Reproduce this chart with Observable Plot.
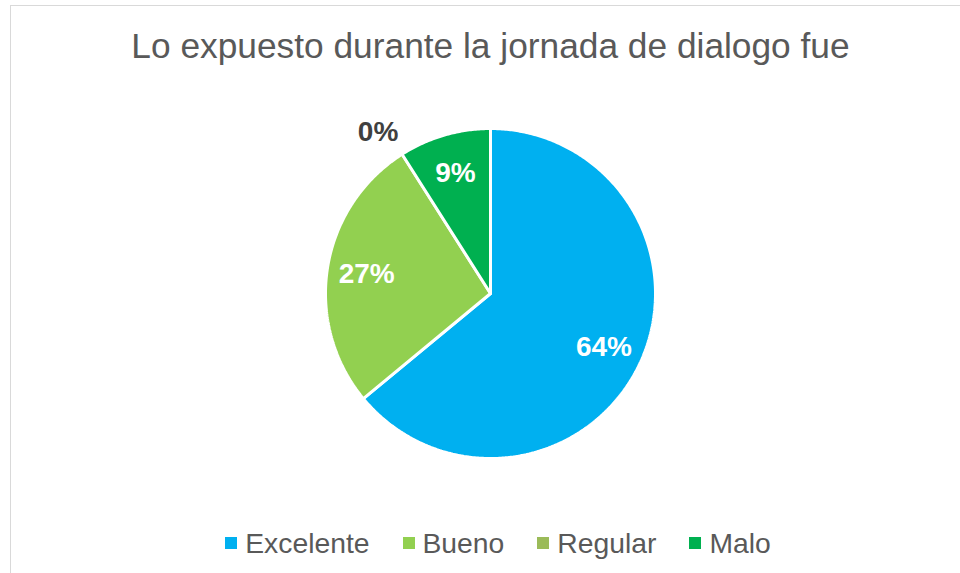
<!DOCTYPE html>
<html>
<head>
<meta charset="utf-8">
<script src="https://cdn.jsdelivr.net/npm/d3@7"></script>
<script src="https://cdn.jsdelivr.net/npm/@observablehq/plot@0.6"></script>
<style>
  html, body { margin: 0; padding: 0; background: #fff; overflow: hidden; }
  #wrap { position: relative; width: 960px; height: 573px; overflow: hidden; font-family: "Liberation Sans", Arial, sans-serif; }
  #frame { position: absolute; left: 10px; top: 5px; width: 1000px; height: 620px; border: 1.5px solid #d9d9d9; box-sizing: border-box; }
  #title { position: absolute; left: 0; width: 981px; top: 26px; text-align: center; font-size: 35.3px; color: #595959; line-height: 40px; white-space: nowrap; }
  #chart { position: absolute; left: 0; top: 0; }
  #legend { position: absolute; left: 0; width: 996px; top: 528px; display: flex; justify-content: center; align-items: center; font-size: 28.3px; color: #595959; line-height: 30px; }
  .item { display: flex; align-items: center; margin: 0 16.5px; }
  .sw { width: 12px; height: 12px; margin-right: 8px; }
</style>
</head>
<body>
<div id="wrap">
  <div id="frame"></div>
  <div id="chart"></div>
  <div id="title">Lo expuesto durante la jornada de dialogo fue</div>
  <div id="legend"></div>
</div>
<script>
const categories = ["Excelente", "Bueno", "Regular", "Malo"];
const values = [64, 27, 0, 9];
const labels = ["64%", "27%", "0%", "9%"];
const colors = ["#00B0F0", "#92D050", "#9BBB59", "#00B050"];

const total = d3.sum(values);
const slices = [];
const labelData = [];
let acc = 0;
categories.forEach((c, i) => {
  const a0 = acc / total * 2 * Math.PI;
  acc += values[i];
  const a1 = acc / total * 2 * Math.PI;
  if (values[i] > 0) {
    slices.push({cat: c, x: 0, y: 0});
    const n = Math.max(2, Math.ceil((a1 - a0) / 0.01));
    for (let k = 0; k <= n; k++) {
      const a = a0 + (a1 - a0) * k / n;
      slices.push({cat: c, x: Math.sin(a), y: Math.cos(a)});
    }
    slices.push({cat: c, x: 0, y: 0});
  }
  const am = (a0 + a1) / 2;
  const r = values[i] > 0 ? 0.76 : 1.17;
  labelData.push({cat: c, label: labels[i], x: r * Math.sin(am), y: r * Math.cos(am), inside: values[i] > 0});
});

const plot = Plot.plot({
  width: 960,
  height: 573,
  margin: 0,
  x: {domain: [-1, 1], range: [325, 655], axis: null},
  y: {domain: [-1, 1], range: [458, 128], axis: null},
  color: {domain: categories, range: colors},
  style: {background: "transparent", fontFamily: "Liberation Sans, Arial, sans-serif"},
  marks: [
    Plot.line(slices, {x: "x", y: "y", z: "cat", fill: "cat", stroke: "white", strokeWidth: 3, strokeLinejoin: "miter", curve: "linear"}),
    Plot.text(labelData.filter(d => d.inside), {x: "x", y: "y", text: "label", fill: "white", fontSize: 28, fontWeight: "bold"}),
    Plot.text(labelData.filter(d => !d.inside), {x: "x", y: "y", text: "label", fill: "#404040", fontSize: 28, fontWeight: "bold", dx: -9, dy: 2})
  ]
});
document.getElementById("chart").appendChild(plot);

const legend = document.getElementById("legend");
categories.forEach((c, i) => {
  const item = document.createElement("div");
  item.className = "item";
  const sw = document.createElement("span");
  sw.className = "sw";
  sw.style.background = colors[i];
  const t = document.createElement("span");
  t.textContent = c;
  item.appendChild(sw);
  item.appendChild(t);
  legend.appendChild(item);
});
</script>
</body>
</html>
